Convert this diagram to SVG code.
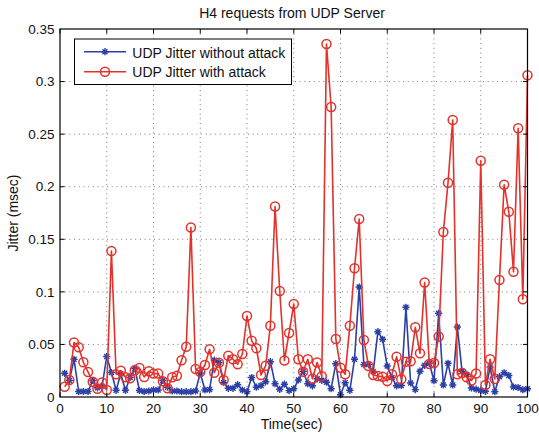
<svg xmlns="http://www.w3.org/2000/svg" xmlns:xlink="http://www.w3.org/1999/xlink" width="539" height="436" viewBox="0 0 539 436">
  <style>
    text { font-family: "Liberation Sans", Arial, Helvetica, sans-serif; fill: #111; }
    .tick-label { font-size: 13.5px; }
    .label { font-size: 14px; }
    .grid line { stroke: #555; stroke-width: 0.8; stroke-dasharray: 1 3.7; }
    .ticks line { stroke: #000; stroke-width: 1; }
    .frame { fill: none; stroke: #000; stroke-width: 1.2; }
    .blue { fill: none; stroke: #2b3fa6; stroke-width: 1.6; stroke-linejoin: round; }
    .red { fill: none; stroke: #e3322b; stroke-width: 1.6; stroke-linejoin: round; }
  </style>
  <defs>
    <marker id="mk-star" markerUnits="userSpaceOnUse" viewBox="-5 -5 10 10" markerWidth="10" markerHeight="10" refX="0" refY="0" orient="0" overflow="visible">
      <path d="M-3.6,0H3.6M0,-3.6V3.6M-2.5,-2.5L2.5,2.5M-2.5,2.5L2.5,-2.5" fill="none" stroke="#2b3fa6" stroke-width="1.4"/>
    </marker>
    <marker id="mk-circle" markerUnits="userSpaceOnUse" viewBox="-6 -6 12 12" markerWidth="12" markerHeight="12" refX="0" refY="0" orient="0" overflow="visible">
      <circle r="4.5" fill="none" stroke="#e3322b" stroke-width="1.5"/>
    </marker>
  </defs>

  <rect width="539" height="436" fill="#fff"/>

  <!-- plot background -->
  <rect x="60" y="29" width="467.5" height="368" fill="#fff"/>

  <!-- dotted grid -->
  <g class="grid">
    <line x1="106.75" y1="29" x2="106.75" y2="397"/>
    <line x1="153.5" y1="29" x2="153.5" y2="397"/>
    <line x1="200.25" y1="29" x2="200.25" y2="397"/>
    <line x1="247" y1="29" x2="247" y2="397"/>
    <line x1="293.75" y1="29" x2="293.75" y2="397"/>
    <line x1="340.5" y1="29" x2="340.5" y2="397"/>
    <line x1="387.25" y1="29" x2="387.25" y2="397"/>
    <line x1="434" y1="29" x2="434" y2="397"/>
    <line x1="480.75" y1="29" x2="480.75" y2="397"/>
    <line x1="60" y1="344.43" x2="527.5" y2="344.43"/>
    <line x1="60" y1="291.86" x2="527.5" y2="291.86"/>
    <line x1="60" y1="239.29" x2="527.5" y2="239.29"/>
    <line x1="60" y1="186.71" x2="527.5" y2="186.71"/>
    <line x1="60" y1="134.14" x2="527.5" y2="134.14"/>
    <line x1="60" y1="81.57" x2="527.5" y2="81.57"/>
  </g>

  <!-- data series -->
  <g id="series">
    <polyline id="without-attack" class="blue" marker-start="url(#mk-star)" marker-mid="url(#mk-star)" marker-end="url(#mk-star)"
      points="64.68,373.3 69.35,380.5 74.03,359.3 78.70,391.5 83.38,391.5 88.05,391.5 92.73,380.5 97.40,387.8 102.08,386.2 106.75,356.5 111.43,372.5 116.10,390.3 120.78,373.7 125.45,390.3 130.13,377.5 134.80,368.3 139.48,390.5 144.15,391.5 148.83,391 153.50,390 158.18,390 162.85,380.5 167.53,387.2 172.20,391 176.88,391 181.55,391.7 186.23,391.7 190.90,391.7 195.58,391 200.25,373 204.93,390 209.60,389.6 214.28,360.2 218.95,362.5 223.63,382.5 228.30,388.3 232.98,388.3 237.65,384.7 242.33,390 247.00,391.7 251.68,377.5 256.35,387.2 261.03,385.5 265.70,381.7 270.38,361.7 275.05,383.7 279.73,389.3 284.40,384.2 289.08,390.6 293.75,388.8 298.43,380 303.10,371.2 307.78,383.7 312.45,385.8 317.13,378.8 321.80,380.3 326.48,382.2 331.15,388.7 335.83,363.7 340.50,394.7 345.18,382.8 349.85,390.3 354.53,359.2 359.20,287 363.88,364.6 368.55,364.6 373.23,371.7 377.90,331.7 382.58,339.3 387.25,366 391.93,377.5 396.60,385.8 401.28,385.5 405.95,307.3 410.63,383 415.30,389.6 419.98,371.2 424.65,365.3 429.33,363.3 434.00,380.7 438.68,313.3 443.35,385 448.03,363.3 452.70,385 457.38,327 462.05,371.3 466.73,374.5 471.40,388 476.08,389.2 480.75,390.5 485.43,391.3 490.10,367 494.78,391.7 499.45,376.7 504.13,372.8 508.80,375.5 513.48,387 518.15,387.5 522.83,389.7 527.50,388.8"/>
    <polyline id="with-attack" class="red" marker-start="url(#mk-circle)" marker-mid="url(#mk-circle)" marker-end="url(#mk-circle)"
      points="64.68,386.7 69.35,380 74.03,342.5 78.70,347.3 83.38,362.3 88.05,372 92.73,381.7 97.40,388.7 102.08,382.5 106.75,390 111.43,251 116.10,374.2 120.78,370.7 125.45,377.3 130.13,378.3 134.80,370.3 139.48,368 144.15,377 148.83,371.2 153.50,373.6 158.18,373.6 162.85,381.3 167.53,388.3 172.20,377.2 176.88,375.8 181.55,360.3 186.23,346.7 190.90,227.5 195.58,369 200.25,372 204.93,365 209.60,349.3 214.28,372.7 218.95,362.7 223.63,380 228.30,355.7 232.98,359.2 237.65,364.2 242.33,354 247.00,316 251.68,340.7 256.35,348.3 261.03,375 265.70,365.7 270.38,325.8 275.05,206.5 279.73,291 284.40,360.5 289.08,333 293.75,304 298.43,359.3 303.10,371.7 307.78,359.3 312.45,378.7 317.13,362.5 321.80,376.2 326.48,44 331.15,107 335.83,339 340.50,367.7 345.18,374.3 349.85,325.7 354.53,268.3 359.20,219 363.88,340 368.55,366 373.23,375 377.90,376 382.58,376.7 387.25,381 391.93,374.3 396.60,356.7 401.28,379.3 405.95,361.7 410.63,361.2 415.30,327.3 419.98,353.3 424.65,282.5 429.33,364 434.00,363 438.68,336.5 443.35,232 448.03,182.7 452.70,120 457.38,374.3 462.05,373 466.73,377.3 471.40,380.5 476.08,373.5 480.75,160.7 485.43,385 490.10,359.2 494.78,379 499.45,280 504.13,184.7 508.80,211.7 513.48,271.7 518.15,128.3 522.83,299.3 527.50,75.3"/>
  </g>

  <!-- axes frame and ticks -->
  <g id="axes">
    <rect class="frame" x="60" y="29" width="467.5" height="368"/>
    <g class="ticks">
      <line x1="60" y1="397" x2="60" y2="392.5"/><line x1="60" y1="29" x2="60" y2="33.5"/>
      <line x1="106.75" y1="397" x2="106.75" y2="392.5"/><line x1="106.75" y1="29" x2="106.75" y2="33.5"/>
      <line x1="153.5" y1="397" x2="153.5" y2="392.5"/><line x1="153.5" y1="29" x2="153.5" y2="33.5"/>
      <line x1="200.25" y1="397" x2="200.25" y2="392.5"/><line x1="200.25" y1="29" x2="200.25" y2="33.5"/>
      <line x1="247" y1="397" x2="247" y2="392.5"/><line x1="247" y1="29" x2="247" y2="33.5"/>
      <line x1="293.75" y1="397" x2="293.75" y2="392.5"/><line x1="293.75" y1="29" x2="293.75" y2="33.5"/>
      <line x1="340.5" y1="397" x2="340.5" y2="392.5"/><line x1="340.5" y1="29" x2="340.5" y2="33.5"/>
      <line x1="387.25" y1="397" x2="387.25" y2="392.5"/><line x1="387.25" y1="29" x2="387.25" y2="33.5"/>
      <line x1="434" y1="397" x2="434" y2="392.5"/><line x1="434" y1="29" x2="434" y2="33.5"/>
      <line x1="480.75" y1="397" x2="480.75" y2="392.5"/><line x1="480.75" y1="29" x2="480.75" y2="33.5"/>
      <line x1="527.5" y1="397" x2="527.5" y2="392.5"/><line x1="527.5" y1="29" x2="527.5" y2="33.5"/>
      <line x1="60" y1="344.43" x2="64.5" y2="344.43"/><line x1="527.5" y1="344.43" x2="523" y2="344.43"/>
      <line x1="60" y1="291.86" x2="64.5" y2="291.86"/><line x1="527.5" y1="291.86" x2="523" y2="291.86"/>
      <line x1="60" y1="239.29" x2="64.5" y2="239.29"/><line x1="527.5" y1="239.29" x2="523" y2="239.29"/>
      <line x1="60" y1="186.71" x2="64.5" y2="186.71"/><line x1="527.5" y1="186.71" x2="523" y2="186.71"/>
      <line x1="60" y1="134.14" x2="64.5" y2="134.14"/><line x1="527.5" y1="134.14" x2="523" y2="134.14"/>
      <line x1="60" y1="81.57" x2="64.5" y2="81.57"/><line x1="527.5" y1="81.57" x2="523" y2="81.57"/>
    </g>
    <g class="tick-label" text-anchor="middle">
      <text x="60" y="413">0</text>
      <text x="106.75" y="413">10</text>
      <text x="153.5" y="413">20</text>
      <text x="200.25" y="413">30</text>
      <text x="247" y="413">40</text>
      <text x="293.75" y="413">50</text>
      <text x="340.5" y="413">60</text>
      <text x="387.25" y="413">70</text>
      <text x="434" y="413">80</text>
      <text x="480.75" y="413">90</text>
      <text x="527.5" y="413">100</text>
    </g>
    <g class="tick-label" text-anchor="end">
      <text x="54.5" y="401.7">0</text>
      <text x="54.5" y="349.1">0.05</text>
      <text x="54.5" y="296.5">0.1</text>
      <text x="54.5" y="244">0.15</text>
      <text x="54.5" y="191.4">0.2</text>
      <text x="54.5" y="138.8">0.25</text>
      <text x="54.5" y="86.3">0.3</text>
      <text x="54.5" y="33.7">0.35</text>
    </g>
  </g>

  <!-- titles -->
  <text class="label" x="292" y="18.3" text-anchor="middle">H4 requests from UDP Server</text>
  <text class="label" x="291.5" y="429" text-anchor="middle">Time(sec)</text>
  <text class="label" transform="translate(18.3,213) rotate(-90)" text-anchor="middle">Jitter (msec)</text>

  <!-- legend -->
  <g id="legend">
    <rect x="74.5" y="39" width="217" height="45.5" fill="#fff" stroke="#000" stroke-width="1"/>
    <polyline class="blue" points="84,51.7 105,51.7 126,51.7" marker-mid="url(#mk-star)"/>
    <text class="label" x="132.3" y="58">UDP Jitter without attack</text>
    <polyline class="red" points="84,71.7 105,71.7 126,71.7" marker-mid="url(#mk-circle)"/>
    <text class="label" x="132.3" y="77.3">UDP Jitter with attack</text>
  </g>
</svg>
